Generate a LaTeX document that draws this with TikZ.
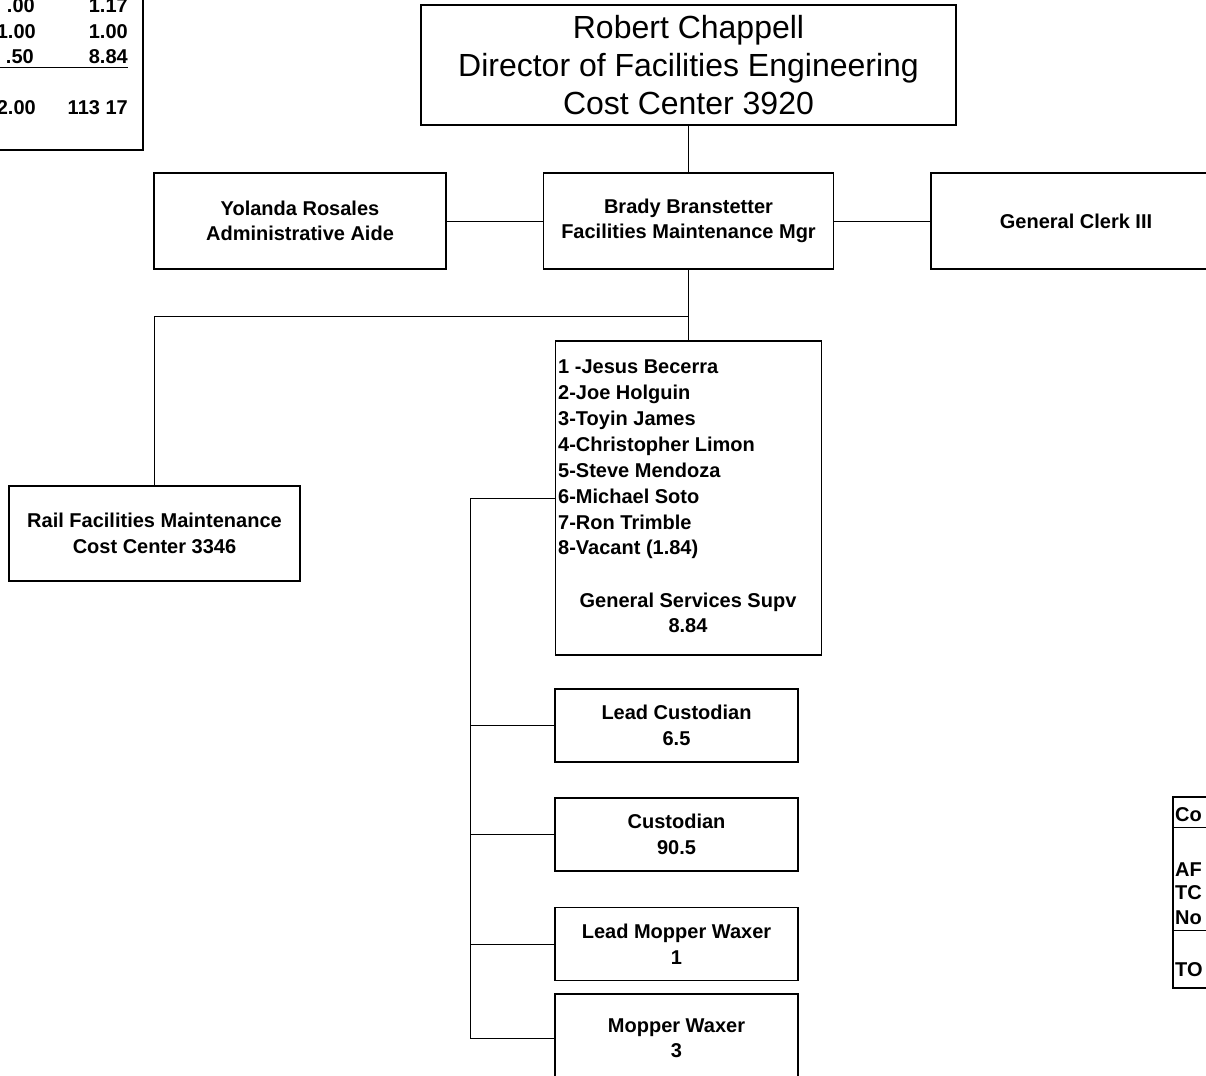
\documentclass[tikz,border=0pt]{standalone}
\usepackage{fontspec}
\setmainfont{Liberation Sans}
\usetikzlibrary{positioning}

\newcommand{\headfont}{\fontsize{32}{38}\selectfont}
\newcommand{\boxfont}{\fontsize{20}{25.5}\selectfont\bfseries}
\newcommand{\listfont}{\fontsize{20}{25.9}\selectfont\bfseries}
\newcommand{\tabfont}{\fontsize{20}{24}\selectfont\bfseries}

\begin{document}
\begin{tikzpicture}[
x=1pt,
y=-1pt,
box/.style={
rectangle,
draw,
line width=1.6pt,
inner sep=0pt,
minimum width=290pt,
minimum height=96pt,
align=center,
font=\boxfont
},
jobbox/.style={box, minimum width=243pt, minimum height=73pt},
link/.style={line width=0.9pt},
frame/.style={line width=1.6pt},
cell/.style={inner sep=0pt, font=\tabfont, anchor=east},
tag/.style={inner sep=0pt, font=\tabfont, anchor=west}
]
\useasboundingbox (0,0) rectangle (1206,1075);

\node[box, font=\headfont, minimum width=535pt, minimum height=120pt] (chappell) at (688.5,65) {Robert Chappell\\Director of Facilities Engineering\\Cost Center 3920};
\node[box] (branstetter) at (688.5,221) {Brady Branstetter\\Facilities Maintenance Mgr};
\node[box, minimum width=292pt] (rosales) at (300,221) {Yolanda Rosales\\Administrative Aide};
\node[box] (clerk) at (1076,221) {General Clerk III};
\node[box, minimum width=291pt, minimum height=95pt] (rail) at (154.5,533.5) {Rail Facilities Maintenance\\Cost Center 3346};

\node[box, minimum width=266pt, minimum height=314pt] (supv) at (688.5,498) {};
\node[inner sep=0pt, align=left, font=\listfont, anchor=west] (roster) at (558,459.5) {1 -Jesus Becerra\\2-Joe Holguin\\3-Toyin James\\4-Christopher Limon\\5-Steve Mendoza\\6-Michael Soto\\7-Ron Trimble\\8-Vacant (1.84)};
\node[inner sep=0pt, align=center, font=\boxfont] (supvtitle) at (688,613) {General Services Supv\\8.84};

\node[jobbox] (leadcust) at (676.5,725.5) {Lead Custodian\\6.5};
\node[jobbox] (cust) at (676.5,834.5) {Custodian\\90.5};
\node[jobbox] (leadmop) at (676.5,944) {Lead Mopper Waxer\\1};
\node[jobbox, minimum height=88pt] (mop) at (676.5,1038) {Mopper Waxer\\3};

\coordinate (hub) at (688.5,316);
\coordinate (spine) at (470,498);

\draw[link] (chappell) -- (branstetter);
\draw[link] (rosales) -- (branstetter);
\draw[link] (branstetter) -- (clerk);
\draw[link] (branstetter) -- (supv);
\draw[link] (hub) -| (rail);
\draw[link] (supv.west) -- (spine) |- (mop.west);
\foreach \job in {leadcust,cust,leadmop}
  \draw[link] (spine |- \job.west) -- (\job.west);

% table cut at the top left
\draw[frame] (-20,-20) rectangle (143,150);
\node[cell] (ftea) at (35,6) {.00};
\node[cell] (fteb) at (128,6) {1.17};
\node[cell] (clka) at (36,32) {1.00};
\node[cell] (clkb) at (128,32) {1.00};
\node[cell] (supa) at (34,57) {.50};
\node[cell] (supb) at (128,57) {8.84};
\draw[link] (-5,67) -- (128,67);
\node[cell] (tota) at (36,108) {2.00};
\node[cell] (totb) at (128,108) {113 17};

% table cut at the bottom right
\draw[frame] (1230,797) -| (1173,988) -- (1230,988);
\node[tag] (co) at (1175,815) {Co};
\draw[link] (1173,827) -- (1210,827);
\node[tag] (af) at (1175,870) {AF};
\node[tag] (tc) at (1175,893) {TC};
\node[tag] (no) at (1175,918) {No};
\draw[link] (1173,930) -- (1210,930);
\node[tag] (to) at (1175,970) {TO};

\end{tikzpicture}
\end{document}
